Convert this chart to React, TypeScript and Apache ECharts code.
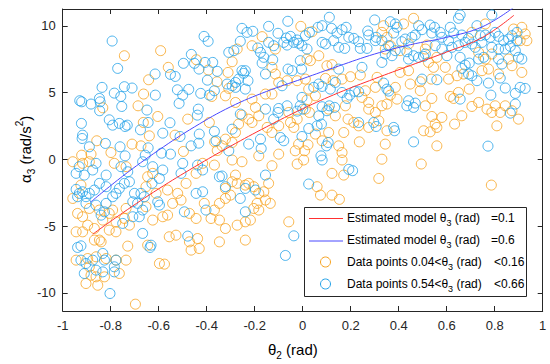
import React, { useEffect, useRef } from 'react';
import * as echarts from 'echarts';

const FONT = '"Liberation Sans", Arial, Helvetica, sans-serif';
const TXT = '#262626';
const ORANGE = '#F7A21E';
const BLUE = '#22A1E8';
const RED_LINE = '#FF3030';
const BLUE_LINE = '#4848FF';

const xTickStep = 0.2;
const yTickValues = [-10, -5, 0, 5, 10];

const legendLabels = ['Estimated model θ', 'Estimated model θ', 'Data points 0.04<θ', 'Data points 0.54<θ'];
const legendValues = ['=0.1', '=0.6', '<0.16', '<0.66'];

const redModel: [number, number][] = [
  [-0.875, -5.6], [-0.75, -4.0], [-0.6, -2.2], [-0.45, -0.55], [-0.3, 1.0], [-0.15, 2.45], [0.0, 3.8],
  [0.15, 5.0], [0.3, 6.05], [0.45, 7.05], [0.6, 8.05], [0.75, 9.15], [0.88, 10.8],
];

const blueModel: [number, number][] = [
  [-0.884, -3.2], [-0.75, -1.25], [-0.6, 0.7], [-0.45, 2.45], [-0.3, 3.95], [-0.15, 5.1], [0.0, 6.05],
  [0.15, 7.0], [0.3, 7.9], [0.45, 8.6], [0.6, 9.15], [0.75, 9.95], [0.88, 11.4],
];

const orangePoints: [number, number][] = [
  [-0.743, 7.77], [-0.592, 8.15], [-0.56, 6.9], [-0.642, 5.97], [-0.663, 4.9], [-0.443, 7.47], [-0.393, 6.7], [-0.357, 5.82], [-0.379, 4.72], [-0.833, 3.87], [-0.686, 4.02], [-0.604, 3.22], [-0.664, 2.77], [-0.639, 1.77], [-0.532, 1.82], [-0.479, 3.02], [-0.389, 2.77], [-0.858, 1.4], [-0.711, 1.15], [-0.674, 1.02], [-0.799, 0.52], [-0.921, 0.32], [-0.882, 0.4], [-0.497, 0.6], [-0.367, 1.32], [-0.356, 0.67],
  [-0.169, 9.2], [-0.273, 8.27], [-0.294, 7.32], [-0.311, 6.52], [-0.211, 8.52], [-0.114, 8.27], [-0.008, 9.97], [0.039, 9.57], [0.018, 7.52], [0.032, 7.4], [0.067, 7.77], [-0.128, 6.9], [-0.114, 6.4], [-0.1, 5.77], [-0.065, 5.9], [-0.128, 4.9], [0.011, 6.02], [0.025, 5.27], [-0.023, 5.9], [0.095, 6.07], [0.127, 5.9], [0.164, 6.02], [0.199, 6.2], [0.24, 6.32], [0.122, 7.1], [0.101, 7.02], [0.261, 5.15], [0.303, 5.4], [0.31, 6.15], [-0.308, 5.32], [-0.322, 4.77], [-0.28, 4.27], [-0.211, 4.52], [-0.197, 3.9], [-0.183, 3.27], [-0.211, 2.77], [-0.225, 3.02], [-0.253, 3.32], [-0.267, 2.65], [-0.28, 2.02], [-0.294, 1.27], [-0.322, 1.52], [-0.336, 1.02], [-0.155, 4.9], [-0.148, 2.4], [-0.128, 2.02], [-0.1, 2.52], [-0.058, 3.52], [-0.051, 2.77], [-0.023, 3.02], [-0.037, 2.4], [0.011, 3.77], [0.028, 3.52], [0.108, 3.77], [0.136, 3.27], [0.178, 4.02], [0.189, 3.02], [0.213, 2.77], [0.233, 2.52], [0.275, 2.4], [0.275, 3.77], [0.317, 2.9], [0.303, 3.52], [0.171, 2.02], [0.236, 1.32], [0.164, 0.52], [0.15, 1.02], [0.053, 1.9], [0.108, 2.02], [0.081, 1.4], [-0.017, 1.15], [0.008, 0.65], [0.022, 1.1], [-0.031, 0.65], [-0.1, 0.4], [-0.183, 0.27], [0.018, 4.45], [0.053, 4.77], [0.247, 4.65], [0.275, 4.27],
  [0.462, 10.57], [0.42, 10.15], [0.351, 9.15], [0.33, 9.52], [0.337, 10.02], [0.365, 8.52], [0.344, 8.27], [0.406, 8.15], [0.441, 8.65], [0.518, 8.57], [0.511, 8.27], [0.705, 9.52], [0.761, 10.15], [0.913, 9.9], [0.927, 9.4], [0.934, 8.9], [0.906, 8.9], [0.879, 9.77], [0.733, 8.02], [0.788, 7.9], [0.761, 7.52], [0.858, 7.52], [0.872, 7.02], [0.524, 7.27], [0.545, 6.9], [0.594, 6.9], [0.559, 7.65], [0.441, 6.65], [0.406, 6.52], [0.448, 5.65], [0.49, 5.82], [0.536, 6.02], [0.608, 6.02], [0.643, 6.27], [0.67, 6.4], [0.774, 6.77], [0.747, 6.65], [0.816, 6.4], [0.913, 6.52], [0.386, 5.4], [0.365, 4.82], [0.393, 4.52], [0.351, 4.15], [0.33, 4.02], [0.49, 5.15], [0.538, 4.57], [0.511, 4.02], [0.615, 4.72], [0.629, 4.57], [0.649, 5.02], [0.694, 5.27], [0.733, 4.27], [0.705, 3.97], [0.768, 3.77], [0.802, 4.02], [0.844, 4.02], [0.823, 3.52], [0.788, 3.52], [0.538, 3.22], [0.58, 3.15], [0.559, 2.4], [0.531, 2.07], [0.504, 2.15], [0.552, 2.65], [0.633, 2.65], [0.663, 3.27], [0.809, 2.52], [0.899, 3.02], [0.872, 3.65], [0.351, 2.15], [0.344, 1.15], [0.559, 1.02], [0.33, 0.02],
  [-0.958, -0.17], [-0.917, -0.29], [-0.889, -0.17], [-0.785, -0.29], [-0.736, -0.54], [-0.924, -1.92], [-0.958, -2.92], [-0.938, -4.04], [-0.917, -4.29], [-0.889, -3.67], [-0.847, -3.79], [-0.806, -4.04], [-0.792, -3.79], [-0.833, -4.54], [-0.778, -4.67], [-0.736, -3.67], [-0.743, -4.42], [-0.722, -4.92], [-0.653, -2.04], [-0.646, -1.29], [-0.625, -1.04], [-0.611, -2.54], [-0.583, -4.29], [-0.563, -4.17], [-0.625, -4.54], [-0.653, -3.54], [-0.563, -2.29], [-0.542, -3.29], [-0.521, -2.54], [-0.507, -3.04], [-0.472, -4.04], [-0.444, -4.42], [-0.486, -1.79], [-0.444, -1.04], [-0.417, -0.29], [-0.368, -0.42], [-0.41, -3.29], [-0.368, -3.79], [-0.382, -4.42], [-0.347, -4.54], [-0.347, -3.29], [-0.944, -5.42], [-0.917, -5.42], [-0.896, -4.92], [-0.868, -5.17], [-0.84, -6.17], [-0.868, -6.04], [-0.847, -6.04], [-0.806, -5.29], [-0.778, -5.42], [-0.646, -6.42], [-0.556, -5.79], [-0.528, -5.67], [-0.472, -6.17], [-0.465, -6.79], [-0.431, -6.67], [-0.438, -5.92], [-0.347, -6.17], [-0.729, -6.49], [-0.597, -7.79], [-0.576, -7.84], [-0.944, -7.54], [-0.896, -7.42], [-0.861, -7.29], [-0.819, -7.42], [-0.778, -7.54], [-0.736, -7.54], [-0.889, -8.04], [-0.882, -8.67], [-0.861, -8.79], [-0.826, -8.79], [-0.764, -8.54], [-0.903, -9.29], [-0.854, -9.42], [-0.697, -10.84],
  [-0.294, -0.04], [-0.253, -0.17], [-0.128, -0.47], [-0.023, -0.34], [0.004, -0.04], [0.164, -0.04], [-0.28, -1.17], [-0.294, -1.67], [-0.273, -1.79], [-0.322, -2.17], [-0.301, -2.67], [-0.322, -2.92], [-0.239, -1.92], [-0.225, -1.79], [-0.204, -2.04], [-0.183, -2.54], [-0.162, -2.42], [-0.142, -1.79], [-0.135, -3.29], [-0.155, -3.04], [-0.19, -3.29], [-0.204, -3.67], [-0.183, -3.79], [-0.218, -4.54], [-0.239, -4.67], [-0.273, -4.92], [-0.322, -5.17], [-0.239, -6.04], [-0.058, -4.67], [0.06, -2.04], [0.074, -2.67], [0.122, -1.04], [0.171, -1.17], [0.122, -2.67], [0.153, -2.99], [0.317, -1.42], [0.494, -0.34], [0.786, -1.92],
];

const bluePoints: [number, number][] = [
  [-0.794, 8.87], [-0.411, 9.22], [-0.394, 8.85], [-0.771, 6.82], [-0.615, 6.4], [-0.551, 6.37], [-0.531, 6.22], [-0.464, 7.87], [-0.497, 7.2], [-0.432, 6.77], [-0.407, 7.27], [-0.375, 7.27], [-0.397, 5.94], [-0.836, 5.4], [-0.785, 4.97], [-0.743, 5.45], [-0.711, 5.35], [-0.758, 4.72], [-0.754, 3.97], [-0.929, 4.4], [-0.921, 4.32], [-0.882, 4.15], [-0.847, 4.57], [-0.844, 4.32], [-0.846, 3.65], [-0.649, 3.7], [-0.614, 4.82], [-0.522, 5.22], [-0.475, 5.25], [-0.5, 4.82], [-0.515, 4.2], [-0.425, 4.95], [-0.389, 4.82], [-0.368, 5.15], [-0.435, 3.77], [-0.439, 3.32], [-0.922, 2.7], [-0.806, 2.97], [-0.792, 2.57], [-0.764, 2.7], [-0.74, 2.47], [-0.731, 2.57], [-0.676, 2.22], [-0.644, 2.77], [-0.583, 1.97], [-0.553, 2.75], [-0.917, 1.82], [-0.919, 1.57], [-0.889, 0.95], [-0.822, 1.2], [-0.761, 0.95], [-0.74, 0.27], [-0.656, 0.32], [-0.644, 0.87], [-0.588, 0.47], [-0.551, 0.4], [-0.511, 1.72], [-0.465, 1.02], [-0.433, 1.22], [-0.431, 1.9], [-0.368, 2.1], [-0.361, 1.4], [-0.356, 6.6], [-0.451, 7.2],
  [-0.253, 9.82], [-0.232, 9.52], [-0.208, 9.6], [-0.142, 9.97], [-0.103, 9.45], [-0.062, 10.35], [-0.068, 9.1], [-0.051, 9.22], [-0.023, 8.95], [0.011, 9.27], [0.028, 9.52], [0.064, 9.9], [0.081, 10.02], [0.111, 10.65], [0.12, 9.82], [0.143, 9.47], [0.164, 9.72], [0.181, 9.9], [0.192, 9.15], [0.213, 9.07], [0.233, 8.82], [0.271, 9.62], [0.275, 9.32], [0.3, 10.45], [0.306, 9.15], [-0.26, 8.85], [-0.308, 8.02], [-0.287, 8.15], [-0.187, 8.35], [-0.176, 8.02], [-0.162, 7.65], [-0.169, 7.22], [-0.142, 8.77], [-0.125, 7.47], [-0.121, 8.52], [-0.079, 8.77], [-0.065, 8.57], [-0.037, 8.77], [-0.017, 8.7], [-0.003, 8.52], [-0.01, 7.4], [0.018, 8.27], [0.081, 8.77], [0.095, 8.65], [0.129, 8.9], [0.15, 8.4], [0.175, 8.32], [0.24, 8.32], [0.268, 8.32], [0.303, 8.9], [-0.253, 6.65], [-0.239, 6.65], [-0.246, 6.45], [-0.267, 6.02], [-0.228, 5.9], [-0.28, 5.77], [-0.294, 5.52], [-0.315, 5.65], [-0.28, 5.4], [-0.155, 6.4], [-0.061, 6.77], [-0.044, 6.65], [-0.005, 6.77], [-0.086, 5.52], [-0.239, 5.27], [0.046, 5.4], [0.067, 5.65], [0.081, 5.47], [0.115, 5.27], [0.136, 5.77], [0.15, 6.77], [0.247, 6.9], [0.164, 5.02], [0.185, 4.57], [0.196, 4.82], [0.217, 5.1], [0.233, 5.07], [-0.003, 4.65], [-0.01, 4.02], [0.0, 3.77], [-0.1, 3.82], [-0.103, 3.52], [-0.065, 4.02], [-0.023, 3.62], [-0.155, 3.77], [-0.121, 3.02], [0.081, 3.95], [0.101, 3.65], [0.111, 4.02], [0.133, 3.9], [0.067, 3.27], [0.06, 2.52], [0.078, 2.65], [0.025, 2.32], [0.233, 2.77], [0.296, 2.77], [0.306, 2.47], [-0.26, 3.4], [-0.294, 2.27], [-0.225, 1.15], [-0.176, 1.52], [-0.173, 0.82], [-0.093, 1.65], [-0.079, 1.4], [-0.003, 1.72], [0.106, 1.27], [0.099, 1.02], [0.076, 0.27], [-0.308, 0.65],
  [0.365, 10.32], [0.386, 10.15], [0.393, 9.9], [0.379, 9.47], [0.483, 10.02], [0.497, 9.72], [0.469, 9.32], [0.455, 9.15], [0.427, 9.02], [0.413, 8.82], [0.531, 10.07], [0.549, 9.9], [0.538, 9.47], [0.573, 9.52], [0.58, 9.15], [0.615, 9.9], [0.629, 9.47], [0.656, 10.82], [0.649, 10.57], [0.663, 9.32], [0.691, 9.07], [0.726, 10.02], [0.74, 9.27], [0.761, 9.32], [0.788, 10.82], [0.781, 9.15], [0.802, 9.52], [0.816, 9.22], [0.837, 8.9], [0.858, 9.02], [0.872, 9.27], [0.893, 9.52], [0.893, 8.9], [0.865, 8.47], [0.844, 8.27], [0.816, 8.27], [0.788, 8.4], [0.747, 8.77], [0.719, 8.4], [0.705, 8.65], [0.677, 8.77], [0.649, 8.52], [0.608, 8.9], [0.622, 8.4], [0.58, 8.27], [0.552, 8.52], [0.33, 8.9], [0.358, 8.52], [0.386, 8.15], [0.344, 7.9], [0.372, 7.77], [0.33, 7.27], [0.434, 8.07], [0.462, 7.77], [0.441, 7.52], [0.483, 7.65], [0.504, 7.72], [0.511, 7.9], [0.601, 7.77], [0.656, 7.65], [0.677, 7.07], [0.663, 6.82], [0.694, 7.22], [0.733, 7.52], [0.754, 7.65], [0.691, 6.4], [0.726, 5.9], [0.705, 6.27], [0.913, 7.52], [0.899, 7.65], [0.886, 8.15], [0.816, 7.52], [0.83, 7.15], [0.559, 5.97], [0.497, 6.02], [0.823, 6.1], [0.844, 5.35], [0.906, 5.4], [0.927, 5.32], [0.886, 4.95], [0.774, 5.72], [0.784, 4.82], [0.337, 5.72], [0.351, 5.27], [0.358, 5.12], [0.441, 4.4], [0.469, 4.22], [0.434, 4.02], [0.462, 3.9], [0.656, 4.52], [0.886, 4.15], [0.865, 3.47], [0.379, 2.4], [0.383, 2.15], [0.462, 1.32], [0.772, 1.0],
  [-0.944, -2.24], [-0.931, -2.54], [-0.938, -2.79], [-0.917, -2.42], [-0.903, -2.79], [-0.889, -2.54], [-0.868, -2.29], [-0.903, -3.29], [-0.931, -0.54], [-0.944, -1.04], [-0.91, -1.17], [-0.875, -0.79], [-0.861, -0.29], [-0.819, -1.17], [-0.847, -1.79], [-0.819, -2.04], [-0.792, -2.79], [-0.778, -2.54], [-0.764, -2.17], [-0.743, -1.79], [-0.722, -1.67], [-0.701, -2.54], [-0.674, -2.54], [-0.66, -2.79], [-0.708, -3.17], [-0.688, -3.29], [-0.667, -3.79], [-0.708, -4.29], [-0.681, -4.29], [-0.75, -4.79], [-0.826, -3.92], [-0.84, -4.17], [-0.861, -3.42], [-0.819, -3.29], [-0.757, -0.54], [-0.729, -0.92], [-0.667, -0.17], [-0.625, -0.54], [-0.583, -0.79], [-0.597, -1.42], [-0.628, -1.79], [-0.604, -3.17], [-0.597, -3.42], [-0.507, -1.04], [-0.5, -0.29], [-0.438, -0.42], [-0.417, -0.79], [-0.444, -2.54], [-0.417, -2.42], [-0.403, -3.79], [-0.493, -3.92], [-0.347, -1.29], [-0.667, -5.54], [-0.632, -6.42], [-0.636, -6.59], [-0.479, -5.74], [-0.938, -6.59], [-0.924, -6.47], [-0.924, -7.54], [-0.903, -7.79], [-0.875, -7.54], [-0.833, -7.04], [-0.826, -7.54], [-0.861, -8.29], [-0.833, -8.42], [-0.785, -8.42], [-0.785, -8.04], [-0.778, -7.54], [-0.91, -8.54], [-0.803, -10.04],
  [-0.336, -1.24], [-0.322, -2.04], [-0.26, -2.92], [-0.239, -2.17], [-0.197, -2.29], [-0.155, -1.17], [-0.239, -3.92], [0.025, -1.84], [0.192, -0.74], [0.208, -0.84], [-0.037, -5.72], [-0.072, -7.19], [0.081, -0.04],
];

export default function App() {
  const ref = useRef<HTMLDivElement>(null);
  useEffect(() => {
    const chart = echarts.init(ref.current!, null, { renderer: 'svg' });
    const axisLine = { show: true, onZero: false, lineStyle: { color: TXT, width: 1 } };
    const tickStyle = { inside: true, length: 5, lineStyle: { color: TXT, width: 1 } };
    const legendRich = {
      t: { fontSize: 12, fontFamily: FONT, color: TXT, lineHeight: 18 },
      s: { fontSize: 9, fontFamily: FONT, color: TXT, lineHeight: 9, verticalAlign: 'bottom' },
    };
    const nameRich = {
      t: { fontSize: 15, fontFamily: FONT, color: TXT, lineHeight: 22 },
      s: { fontSize: 10, fontFamily: FONT, color: TXT, lineHeight: 10, verticalAlign: 'bottom' },
      p: { fontSize: 10, fontFamily: FONT, color: TXT, lineHeight: 10, verticalAlign: 'top' },
    };
    const rowY = [218, 240, 262, 284];
    const legendChildren: any[] = [
      { type: 'rect', shape: { x: 304.5, y: 207.5, width: 222, height: 89 }, style: { fill: '#fff', stroke: TXT, lineWidth: 1 } },
      { type: 'line', shape: { x1: 309, y1: rowY[0] + 0.5, x2: 343, y2: rowY[0] + 0.5 }, style: { stroke: RED_LINE, lineWidth: 1 } },
      { type: 'line', shape: { x1: 309, y1: rowY[1] + 1, x2: 343, y2: rowY[1] + 1 }, style: { stroke: BLUE_LINE, lineWidth: 1 } },
      { type: 'circle', shape: { cx: 325.5, cy: rowY[2], r: 5 }, style: { fill: 'none', stroke: ORANGE, lineWidth: 1 } },
      { type: 'circle', shape: { cx: 325.5, cy: rowY[3], r: 5 }, style: { fill: 'none', stroke: BLUE, lineWidth: 1 } },
    ];
    legendLabels.forEach((lab, i) => {
      legendChildren.push({
        type: 'text', x: 347, y: rowY[i],
        style: { text: `{t|${lab}}{s|3}{t| (rad)}`, rich: legendRich, align: 'left', verticalAlign: 'middle' },
      });
      legendChildren.push({
        type: 'text', x: i < 2 ? 491 : 494, y: rowY[i],
        style: { text: `{t|${legendValues[i]}}`, rich: legendRich, align: 'left', verticalAlign: 'middle' },
      });
    });

    chart.setOption({
      animation: false,
      backgroundColor: '#fff',
      grid: { left: 62.7, right: 7.3, top: 9, bottom: 53, containLabel: false },
      xAxis: [
        {
          type: 'value', min: -1, max: 1, interval: xTickStep, position: 'bottom',
          axisLine, axisTick: tickStyle, splitLine: { show: false },
          axisLabel: { color: TXT, fontSize: 13, fontFamily: FONT, margin: 8, formatter: (v: number) => String(Math.round(v * 10) / 10) },
        },
        {
          type: 'value', min: -1, max: 1, interval: xTickStep, position: 'top',
          axisLine, axisTick: tickStyle, splitLine: { show: false }, axisLabel: { show: false },
        },
      ],
      yAxis: [
        {
          type: 'value', min: -11.35, max: 11.27, position: 'left',
          axisLine, axisTick: { ...tickStyle, customValues: yTickValues }, splitLine: { show: false },
          axisLabel: { color: TXT, fontSize: 13, fontFamily: FONT, margin: 7, customValues: yTickValues },
        },
        {
          type: 'value', min: -11.35, max: 11.27, position: 'right',
          axisLine, axisTick: { ...tickStyle, customValues: yTickValues }, splitLine: { show: false },
          axisLabel: { show: false, customValues: yTickValues },
        },
      ],
      series: [
        {
          type: 'scatter', data: orangePoints, symbol: 'circle', symbolSize: 10, xAxisIndex: 0, yAxisIndex: 0,
          itemStyle: { color: 'rgba(0,0,0,0)', borderColor: ORANGE, borderWidth: 1 },
        },
        {
          type: 'scatter', data: bluePoints, symbol: 'circle', symbolSize: 10, xAxisIndex: 0, yAxisIndex: 0,
          itemStyle: { color: 'rgba(0,0,0,0)', borderColor: BLUE, borderWidth: 1 },
        },
        {
          type: 'line', data: redModel, smooth: 0.4, showSymbol: false, clip: true,
          lineStyle: { color: RED_LINE, width: 1 }, z: 5,
        },
        {
          type: 'line', data: blueModel, smooth: 0.4, showSymbol: false, clip: true,
          lineStyle: { color: BLUE_LINE, width: 1 }, z: 5,
        },
      ],
      graphic: [
        { type: 'group', z: 100, children: legendChildren },
        {
          type: 'text', x: 268, y: 349, z: 100,
          style: { text: '{t|θ}{s|2}{t| (rad)}', rich: nameRich, align: 'left', verticalAlign: 'middle' },
        },
        {
          type: 'text', x: 25, y: 183, rotation: Math.PI / 2, z: 100,
          style: { text: '{t|α}{s|3}{t| (rad/s}{p|2}{t|)}', rich: nameRich, align: 'left', verticalAlign: 'middle' },
        },
      ],
    });
    return () => chart.dispose();
  }, []);
  return <div ref={ref} style={{ position: 'fixed', left: 0, top: 0, width: 550, height: 364, background: '#fff' }} />;
}
